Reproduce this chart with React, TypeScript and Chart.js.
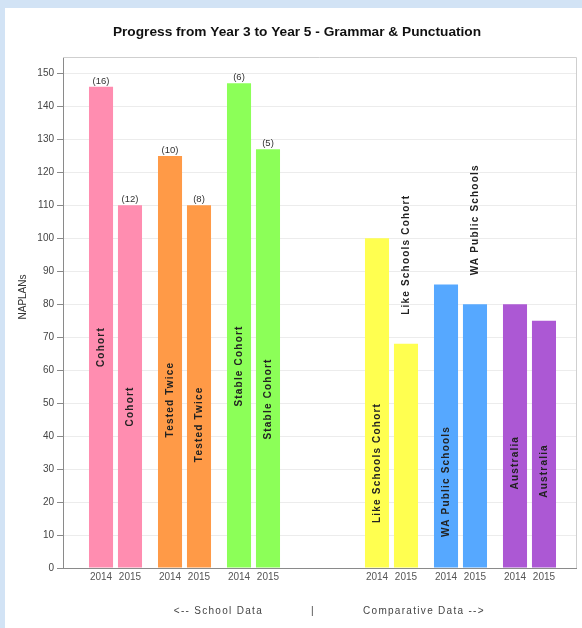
import { useEffect, useRef } from "react";
import { Chart, registerables } from "chart.js";

Chart.register(...registerables);

const groups = ["Cohort", "Tested Twice", "Stable Cohort", "", "Like Schools Cohort", "WA Public Schools", "Australia"];
const years = ["2014", "2015"];
const values2014 = [146, 125, 147, null, 100, 86, 80];
const values2015 = [110, 110, 127, null, 68, 80, 75];
const counts2014 = ["(16)", "(10)", "(6)", "", "", "", ""];
const counts2015 = ["(12)", "(8)", "(5)", "", "", "", ""];
const labelInside2014 = [true, true, true, true, true, true, true];
const labelInside2015 = [true, true, true, true, false, false, true];
const groupColors = ["#ff8db0", "#ff9a47", "#8cff58", "#ffffff", "#ffff50", "#56a8ff", "#ac58d4"];
const yTicks = [0, 10, 20, 30, 40, 50, 60, 70, 80, 90, 100, 110, 120, 130, 140, 150];
const chartTitle = "Progress from Year 3 to Year 5 - Grammar & Punctuation";
const yTitle = "NAPLANs";
const footerLeft = "<-- School Data";
const footerMid = "|";
const footerRight = "Comparative Data -->";

const FONT = '"Liberation Sans", Arial, sans-serif';

function makeDataset(label: string, vals: (number | null)[]) {
  const idx = vals.map((v, i) => (v == null ? -1 : i)).filter((i) => i >= 0);
  return {
    label,
    data: idx.map((i) => ({ x: i, y: vals[i] as number })),
    backgroundColor: idx.map((i) => groupColors[i]),
    borderWidth: 0,
    categoryPercentage: 0.84,
    barPercentage: 0.83,
  };
}

const countsByYear = [counts2014, counts2015];
const insideByYear = [labelInside2014, labelInside2015];

const textPlugin = {
  id: "textPlugin",
  beforeDatasetsDraw(chart: any) {
    const { ctx, chartArea } = chart;
    ctx.save();
    ctx.strokeStyle = "#cfcfcf";
    ctx.lineWidth = 1;
    ctx.beginPath();
    ctx.moveTo(chartArea.left, chartArea.top + 0.5);
    ctx.lineTo(chartArea.right + 0.5, chartArea.top + 0.5);
    ctx.lineTo(chartArea.right + 0.5, chartArea.bottom);
    ctx.stroke();
    ctx.restore();
  },
  afterDatasetsDraw(chart: any) {
    const { ctx } = chart;
    ctx.save();
    chart.data.datasets.forEach((ds: any, di: number) => {
      const meta = chart.getDatasetMeta(di);
      meta.data.forEach((bar: any, j: number) => {
        const gi = ds.data[j].x;
        const { x, y, base } = bar.getProps(["x", "y", "base"], true);
        ctx.font = `10px ${FONT}`;
        ctx.fillStyle = "#555";
        ctx.textAlign = "center";
        ctx.textBaseline = "middle";
        ctx.fillText(years[di], x, 577);
        const c = countsByYear[di][gi];
        if (c) {
          ctx.font = `9.5px ${FONT}`;
          ctx.fillStyle = "#333";
          ctx.textBaseline = "alphabetic";
          ctx.fillText(c, x, y - 3);
        }
        const name = groups[gi];
        if (name) {
          ctx.save();
          ctx.font = `bold 10px ${FONT}`;
          (ctx as any).letterSpacing = "1.2px";
          ctx.fillStyle = "#222";
          ctx.textBaseline = "middle";
          if (insideByYear[di][gi]) {
            ctx.translate(x, (y + base) / 2);
            ctx.rotate(-Math.PI / 2);
            ctx.textAlign = "right";
          } else {
            ctx.translate(x, y - 29);
            ctx.rotate(-Math.PI / 2);
            ctx.textAlign = "left";
          }
          ctx.fillText(name, 0, 0);
          ctx.restore();
        }
      });
    });
    ctx.restore();
  },
  afterDraw(chart: any) {
    const { ctx } = chart;
    ctx.save();
    ctx.fillStyle = "#111";
    ctx.font = `bold 13.7px ${FONT}`;
    ctx.textAlign = "center";
    ctx.textBaseline = "middle";
    ctx.fillText(chartTitle, 297, 32);

    ctx.save();
    ctx.font = `10px ${FONT}`;
    ctx.fillStyle = "#333";
    ctx.translate(23, 297);
    ctx.rotate(-Math.PI / 2);
    ctx.textAlign = "center";
    ctx.fillText(yTitle, 0, 0);
    ctx.restore();

    ctx.font = `10px ${FONT}`;
    (ctx as any).letterSpacing = "1.3px";
    ctx.fillStyle = "#444";
    ctx.textAlign = "right";
    ctx.fillText(footerLeft, 263, 611);
    ctx.textAlign = "center";
    ctx.fillText(footerMid, 313, 611);
    ctx.textAlign = "left";
    ctx.fillText(footerRight, 363, 611);
    ctx.restore();
  },
};

export default function App() {
  const ref = useRef<HTMLCanvasElement>(null);
  useEffect(() => {
    if (!ref.current) return;
    const chart = new Chart(ref.current, {
      type: "bar",
      data: {
        datasets: [makeDataset(years[0], values2014), makeDataset(years[1], values2015)] as any,
      },
      options: {
        responsive: false,
        animation: false,
        devicePixelRatio: 1,
        layout: { padding: { left: 23, right: 6, top: 57, bottom: 60 } },
        plugins: { legend: { display: false }, tooltip: { enabled: false }, title: { display: false } },
        scales: {
          x: {
            type: "linear",
            min: -0.761,
            max: 6.674,
            offset: false,
            grid: { display: false, drawTicks: false },
            ticks: { display: false },
            border: { display: true, color: "#8a8a8a" },
            afterFit: (s: any) => {
              s.height = 0;
            },
          },
          y: {
            min: 0,
            max: 155,
            afterBuildTicks: (s: any) => {
              s.ticks = yTicks.map((v) => ({ value: v }));
            },
            grid: { color: "#ececec", tickColor: "#8a8a8a", tickLength: 6, drawTicks: true },
            border: { display: true, color: "#8a8a8a" },
            ticks: { font: { size: 10, family: FONT }, color: "#444", padding: 3 },
            afterFit: (s: any) => {
              s.width = 40;
            },
          },
        },
      },
      plugins: [textPlugin],
    });
    return () => chart.destroy();
  }, []);

  return (
    <div style={{ position: "fixed", left: 0, top: 0, width: 582, height: 628, background: "#d2e3f5", overflow: "hidden" }}>
      <div style={{ position: "absolute", left: 5, top: 8, right: 0, bottom: 0, background: "#ffffff" }} />
      <canvas ref={ref} width={582} height={628} style={{ position: "absolute", left: 0, top: 0, width: 582, height: 628 }} />
    </div>
  );
}
